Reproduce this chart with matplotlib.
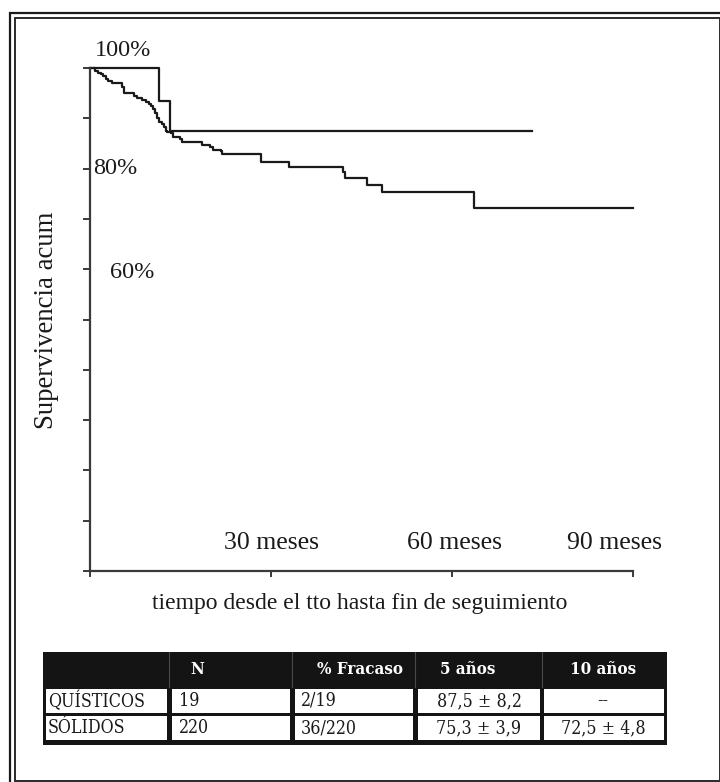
import matplotlib
matplotlib.use("Agg")
import matplotlib.pyplot as plt
from matplotlib import font_manager as fm
from matplotlib.patches import Rectangle
from matplotlib.lines import Line2D

# ---------------- data ----------------
solid_t = [0, 0.8, 1.4, 1.8, 2.2, 2.65, 3.0, 3.6, 5.3, 5.6, 7.3, 7.85, 8.6, 9.3, 9.7,
           10.1, 10.4, 10.8, 11.1, 11.5, 11.9, 12.2, 12.6, 12.8, 13.5, 13.8, 14.9, 15.2,
           18.5, 19.9, 20.4, 21.7, 21.9, 28.4, 33.0, 42.0, 42.3, 45.9, 48.4, 63.7, 90.0]
solid_s = [100, 99.5, 99.1, 98.8, 98.4, 97.9, 97.4, 97.1, 96.3, 95.1, 94.4, 94.0, 93.6, 93.3, 92.8,
           92.4, 91.8, 91.0, 90.0, 89.3, 88.8, 88.2, 87.5, 87.3, 87.0, 86.2, 85.8, 85.3,
           84.7, 84.3, 83.7, 83.5, 83.0, 81.3, 80.3, 79.3, 78.1, 76.7, 75.3, 72.2, 72.2]
quist_t = [0, 11.4, 13.3, 73.3]
quist_s = [100, 93.5, 87.5, 87.5]

x_ticks = [0, 30, 60, 90]
x_tick_labels = ["30 meses", "60 meses", "90 meses"]
x_tick_label_pos = [30, 60.4, 87]
y_ticks = list(range(0, 101, 10))
y_labels = ["100%", "80%", "60%"]
y_label_pos = [(0.8, 103.4), (0.5, 80), (3.3, 59.4)]

table_header = ["", "N", "% Fracaso", "5 años", "10 años"]
table_rows = [
    ["QUÍSTICOS", "19", "2/19", "87,5 ± 8,2", "--"],
    ["SÓLIDOS", "220", "36/220", "75,3 ± 3,9", "72,5 ± 4,8"],
]

# ---------------- fonts ----------------
SERIF = "Liberation Serif"


def condensed_serif(weight):
    best = None
    for f in fm.fontManager.ttflist:
        n = f.name.lower()
        if "serif" not in n or "sans" in n or f.style != "normal":
            continue
        if f.stretch not in ("condensed", "semi-condensed", 625, 700, 750):
            continue
        score = abs(int(f.weight) - weight) if str(f.weight).isdigit() else 500
        if n == "noto serif":
            score -= 1000
        elif n.startswith("noto serif"):
            score += 2000
        if best is None or score < best[0]:
            best = (score, f.fname)
    if best is None:
        return fm.FontProperties(family=SERIF, weight="bold" if weight >= 600 else "normal")
    return fm.FontProperties(fname=best[1])


body_fp = condensed_serif(400)
head_fp = condensed_serif(700)

# ---------------- figure ----------------
W, H = 720, 782
fig = plt.figure(figsize=(W / 100, H / 100), dpi=100)
fig.patch.set_facecolor("white")


def fx(x):
    return x / W


def fy(y):
    return 1 - y / H


# double frame
fig.add_artist(Rectangle((fx(10), fy(800)), fx(740) - fx(10), fy(13) - fy(800), fill=False,
                         lw=1.6, ec="#1a1a1a", transform=fig.transFigure))
fig.add_artist(Rectangle((fx(15), fy(781.3)), fx(719.6) - fx(15), fy(18) - fy(781.3), fill=False,
                         lw=1.4, ec="#2a2a2a", transform=fig.transFigure))

# ---------------- KM plot ----------------
L, R, T, B = 90, 633, 68, 571
ax = fig.add_axes([fx(L), fy(B), (R - L) / W, (B - T) / H])
ax.set_xlim(0, 90)
ax.set_ylim(0, 100)
ax.set_facecolor("none")

ax.step(quist_t, quist_s, where="post", color="#1a1a1a", lw=1.6, clip_on=False)
ax.step(solid_t, solid_s, where="post", color="#1a1a1a", lw=1.6, clip_on=False)

for s in ["top", "right"]:
    ax.spines[s].set_visible(False)
for s in ["left", "bottom"]:
    ax.spines[s].set_linewidth(1.6)
    ax.spines[s].set_color("#3a3a3a")
ax.set_yticks(y_ticks)
ax.set_xticks(x_ticks)
ax.tick_params(axis="y", direction="out", length=5, width=1.4, color="#3a3a3a", labelleft=False)
ax.tick_params(axis="x", direction="out", length=4, width=1.4, color="#3a3a3a", labelbottom=False)

for (xp, yp), lab in zip(y_label_pos, y_labels):
    ax.text(xp, yp, lab, ha="left", va="center", fontsize=17.5, family=SERIF,
            color="#1a1a1a", clip_on=False)
for xp, lab in zip(x_tick_label_pos, x_tick_labels):
    ax.text(xp, 5.6, lab, ha="center", va="center", fontsize=18.5, family=SERIF, color="#1a1a1a")

ax.set_xlabel("tiempo desde el tto hasta fin de seguimiento", fontsize=17, family=SERIF,
              color="#1a1a1a", va="center")
ax.xaxis.set_label_coords((360 - L) / (R - L), (B - 603) / (B - T))
ax.set_ylabel("Supervivencia acum", fontsize=19.3, family=SERIF, color="#1a1a1a",
              va="center", rotation=90)
ax.yaxis.set_label_coords((47 - L) / (R - L), (B - 320) / (B - T))

# ---------------- table ----------------
tx0, tx1, ty0, ty1 = 43, 667, 652, 745
tab = fig.add_axes([fx(tx0), fy(ty1), (tx1 - tx0) / W, (ty1 - ty0) / H])
tab.set_xlim(tx0, tx1)
tab.set_ylim(ty1, ty0)
tab.axis("off")
tab.add_patch(Rectangle((tx0, ty0), tx1 - tx0, ty1 - ty0, fc="#141414", ec="none"))

col_edges = [(45.5, 166.5), (171.5, 290), (294.5, 413), (417.5, 540), (544, 664)]
row_edges = [(689, 713), (716.5, 740.5)]
for (r0, r1) in row_edges:
    for (c0, c1) in col_edges:
        tab.add_patch(Rectangle((c0, r0), c1 - c0, r1 - r0, fc="white", ec="none"))
for (c0, c1), (n0, n1) in zip(col_edges[:-1], col_edges[1:]):
    xm = (c1 + n0) / 2
    tab.add_line(Line2D([xm, xm], [ty0, 687], color="#4a4a4a", lw=0.8))

# font sizes fitted to the reference text widths
fig.canvas.draw()
renderer = fig.canvas.get_renderer()


def fit_size(text, target_px, fp, cap=18.0):
    p = fp.copy()
    p.set_size(20)
    t = fig.text(0, 0, text, fontproperties=p)
    w = t.get_window_extent(renderer).width
    t.remove()
    return min(cap, 20 * target_px / w)


body_fs = fit_size("QUÍSTICOS", 97, body_fp)
head_fs = fit_size("% Fracaso", 86, head_fp)


def fp_at(fp, size):
    p = fp.copy()
    p.set_size(size)
    return p


head_x = [None, 197, 360, 468, 603]
for xp, lab in zip(head_x, table_header):
    if lab:
        tab.text(xp, 670, lab, ha="center", va="center", color="white",
                 fontproperties=fp_at(head_fp, head_fs))

cell_x = [(48, "left"), (179, "left"), (301, "left"), (479, "center"), (603, "center")]
row_y = [701, 728.5]
for ry, row in zip(row_y, table_rows):
    for (xp, ha), lab in zip(cell_x, row):
        tab.text(xp, ry, lab, ha=ha, va="center", color="#1a1a1a",
                 fontproperties=fp_at(body_fp, body_fs))

fig.savefig("out.png", dpi=100)
